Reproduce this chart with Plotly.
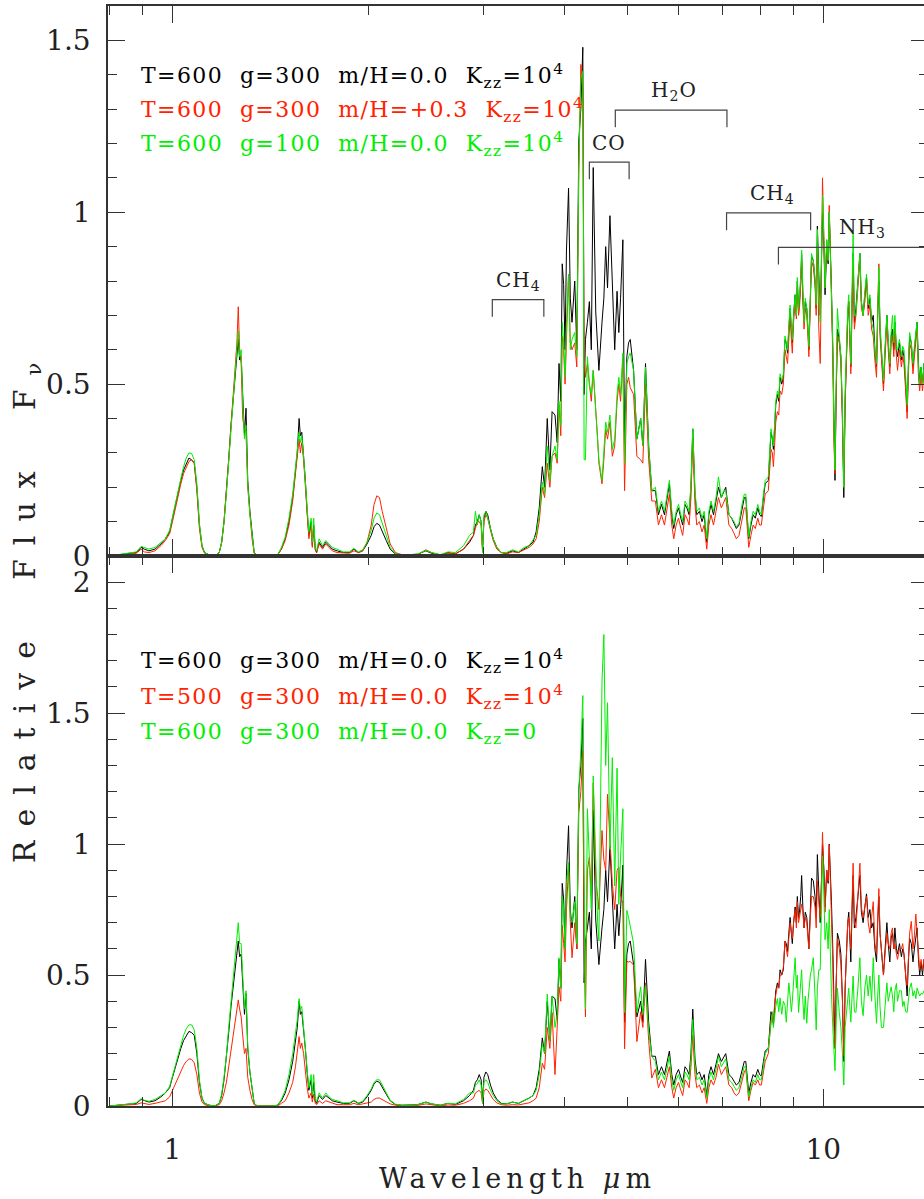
import numpy as np
import plotly.graph_objects as go

# ---------------------------------------------------------------------------
# Model spectra (relative F_nu) sampled on a common wavelength grid (micron)
# ---------------------------------------------------------------------------
wavelength = [
    # 0.80 - 0.96
    0.80, 0.83, 0.86, 0.88, 0.895, 0.905, 0.92, 0.94, 0.96,
    # Y band
    0.975, 0.99, 1.0, 1.01, 1.02, 1.03, 1.04, 1.05, 1.06, 1.07, 1.08, 1.09, 1.10, 1.11, 1.12, 1.14, 1.16,
    # J band
    1.18, 1.19, 1.20, 1.21, 1.22, 1.23, 1.24, 1.25, 1.256, 1.262, 1.268, 1.275, 1.282, 1.29, 1.297, 1.305,
    1.315, 1.325, 1.335, 1.35,
    1.38, 1.42, 1.45,
    # H band
    1.47, 1.49, 1.51, 1.53, 1.545, 1.555, 1.565, 1.572, 1.58, 1.59, 1.60, 1.61, 1.62, 1.633, 1.64, 1.648,
    1.657, 1.665, 1.68, 1.70, 1.72, 1.74, 1.76, 1.79,
    1.83, 1.87, 1.90, 1.93, 1.96, 1.99,
    # K band
    2.02, 2.04, 2.06, 2.08, 2.10, 2.13, 2.16, 2.2, 2.25,
    2.3, 2.38, 2.45, 2.5, 2.58, 2.65, 2.72, 2.8, 2.86,
    2.9, 2.92, 2.94, 2.96, 2.98, 2.995, 3.01, 3.03, 3.05, 3.08, 3.11, 3.15, 3.2,
    3.26, 3.33, 3.4, 3.47, 3.53, 3.58,
    # 4 micron window
    3.62, 3.66, 3.70, 3.73, 3.765, 3.80, 3.83, 3.87, 3.90, 3.925,
    3.95, 3.97, 3.99, 4.01, 4.03, 4.06, 4.085, 4.11, 4.15, 4.18,
    4.21, 4.24, 4.27, 4.29, 4.31, 4.34, 4.37, 4.40, 4.43, 4.47,
    4.50, 4.52, 4.57, 4.60, 4.63, 4.66, 4.70, 4.74, 4.78, 4.82,
    4.85, 4.88, 4.92, 4.95, 4.99, 5.02, 5.05, 5.11, 5.17, 5.24,
    5.28, 5.33, 5.39, 5.45,
    # 5.5 - 8.2
    5.52, 5.58, 5.64, 5.70, 5.75, 5.80, 5.85, 5.89, 5.94, 5.99,
    6.04, 6.08, 6.13, 6.17, 6.22, 6.26, 6.30, 6.35, 6.39, 6.45,
    6.51, 6.56, 6.62, 6.67, 6.72, 6.78, 6.84, 6.90, 6.97, 7.03,
    7.08, 7.16, 7.23, 7.29, 7.35, 7.42, 7.5, 7.56, 7.6, 7.64,
    7.68, 7.74, 7.8, 7.86, 7.93, 7.98, 8.03, 8.09, 8.14,
    # 8.2 - 14.5
    8.23, 8.27, 8.31, 8.35, 8.38, 8.42, 8.45, 8.5, 8.54, 8.58,
    8.63, 8.68, 8.73, 8.77, 8.81, 8.85, 8.89, 8.93, 8.96, 9.0,
    9.05, 9.09, 9.12, 9.16, 9.19, 9.23, 9.26, 9.3, 9.34, 9.38,
    9.43, 9.47, 9.5, 9.55, 9.59, 9.65, 9.71, 9.75, 9.79, 9.84,
    9.89, 9.93, 9.97, 10.02, 10.06, 10.12, 10.17, 10.21, 10.25, 10.29,
    10.34, 10.38, 10.42, 10.46, 10.51, 10.58, 10.64, 10.7, 10.75, 10.8,
    10.85, 10.9, 10.94, 10.98, 11.02, 11.07, 11.11, 11.16, 11.22, 11.3,
    11.38, 11.44, 11.51, 11.58, 11.65, 11.72, 11.79, 11.86, 11.93, 12.0,
    12.07, 12.12, 12.17, 12.22, 12.28, 12.37, 12.44, 12.52, 12.58, 12.65,
    12.71, 12.77, 12.83, 12.88, 12.95, 13.0, 13.09, 13.18, 13.24, 13.3,
    13.38, 13.45, 13.51, 13.57, 13.65, 13.73, 13.8, 13.87, 13.93, 14.0,
    14.06, 14.13, 14.2, 14.28, 14.36, 14.44, 14.52,
]

# T=600 g=300 m/H=0.0 Kzz=1e4 (reference model, shown in both panels)
flux_base = [
    0.0, 0.003, 0.008, 0.01, 0.025, 0.02, 0.015, 0.02, 0.035,
    0.05, 0.07, 0.11, 0.15, 0.19, 0.22, 0.25, 0.27, 0.285, 0.28, 0.27, 0.2, 0.09, 0.03, 0.01, 0.003, 0.0,
    0.01, 0.04, 0.1, 0.18, 0.28, 0.38, 0.46, 0.54, 0.6, 0.63, 0.57, 0.58, 0.47, 0.35, 0.43, 0.22,
    0.13, 0.06, 0.01, 0.0,
    0.0, 0.0, 0.003,
    0.02, 0.05, 0.1, 0.17, 0.25, 0.3, 0.4, 0.35, 0.36, 0.3, 0.22, 0.13, 0.06, 0.1, 0.03, 0.09,
    0.02, 0.01, 0.04, 0.025, 0.04, 0.03, 0.02, 0.015,
    0.01, 0.01, 0.02, 0.01, 0.015, 0.035,
    0.06, 0.085, 0.095, 0.09, 0.07, 0.045, 0.02, 0.006, 0.003,
    0.003, 0.005, 0.015, 0.008, 0.003, 0.01, 0.006, 0.02, 0.04,
    0.06, 0.09, 0.1, 0.12, 0.1, 0.02, 0.11, 0.13, 0.12, 0.08, 0.05, 0.025, 0.01,
    0.008, 0.015, 0.01, 0.02, 0.03, 0.04,
    0.07, 0.14, 0.26, 0.2, 0.40, 0.25, 0.42, 0.41, 0.33, 0.56,
    0.45, 0.85, 0.79, 0.6, 0.89, 1.07, 0.75, 0.68, 0.80, 0.60,
    1.21, 1.3, 1.48, 0.47, 0.63, 0.68, 0.74, 0.6, 1.13, 0.71,
    0.62, 0.54, 0.68, 0.75, 0.90, 0.78, 0.99, 0.79, 0.60, 0.77,
    0.65, 0.75, 0.92, 0.32, 0.58, 0.62, 0.63, 0.54, 0.34, 0.40,
    0.32, 0.56, 0.32, 0.19,
    0.19, 0.12, 0.15, 0.12, 0.16, 0.21, 0.12, 0.08, 0.12, 0.14,
    0.11, 0.09, 0.15, 0.14, 0.12, 0.2, 0.37, 0.18, 0.12, 0.13,
    0.10, 0.12, 0.04, 0.12, 0.15, 0.12, 0.16, 0.20, 0.17, 0.19,
    0.2, 0.12, 0.11, 0.095, 0.08, 0.09, 0.14, 0.17, 0.17, 0.12,
    0.05, 0.09, 0.12, 0.11, 0.14, 0.12, 0.115, 0.17, 0.21,
    0.22, 0.28, 0.36, 0.34, 0.31, 0.38, 0.44, 0.47, 0.45, 0.52,
    0.5, 0.52, 0.63, 0.62, 0.59, 0.66, 0.72, 0.66, 0.62, 0.7,
    0.76, 0.7, 0.8, 0.72, 0.74, 0.8, 0.88, 0.76, 0.68, 0.74,
    0.72, 0.66, 0.6, 0.75, 0.87, 0.86, 0.8, 0.72, 0.96, 0.82,
    0.7, 0.85, 1.0, 0.9, 0.76, 0.9, 0.85, 1.0, 0.9, 0.78,
    0.6, 0.35, 0.22, 0.45, 0.66, 0.63, 0.58, 0.4, 0.17, 0.45,
    0.6, 0.7, 0.74, 0.62, 0.55, 0.75, 0.88, 0.68, 0.72, 0.8,
    0.88, 0.74, 0.7, 0.76, 0.81, 0.72, 0.75, 0.68, 0.7, 0.6,
    0.55, 0.7, 0.8, 0.66, 0.6, 0.5, 0.6, 0.7, 0.62, 0.55,
    0.64, 0.66, 0.6, 0.68, 0.6, 0.58, 0.62, 0.57, 0.6, 0.58,
    0.5, 0.42, 0.55, 0.64, 0.62, 0.55, 0.6, 0.64, 0.68, 0.56,
    0.5, 0.55, 0.5, 0.56, 0.5, 0.54, 0.5,
]

# T=600 g=300 m/H=+0.3 Kzz=1e4
flux_metal = [
    0.0, 0.002, 0.005, 0.008, 0.02, 0.012, 0.01, 0.015, 0.03,
    0.045, 0.065, 0.1, 0.14, 0.18, 0.21, 0.24, 0.26, 0.275, 0.28, 0.27, 0.19, 0.08, 0.025, 0.008, 0.002, 0.0,
    0.01, 0.04, 0.1, 0.18, 0.28, 0.38, 0.48, 0.57, 0.62, 0.725, 0.6, 0.56, 0.4, 0.37, 0.36, 0.2,
    0.12, 0.05, 0.01, 0.0,
    0.0, 0.0, 0.002,
    0.02, 0.045, 0.09, 0.16, 0.24, 0.29, 0.34, 0.3, 0.33, 0.28, 0.2, 0.12, 0.05, 0.09, 0.025, 0.08,
    0.02, 0.01, 0.035, 0.02, 0.035, 0.025, 0.015, 0.01,
    0.008, 0.008, 0.015, 0.01, 0.015, 0.04,
    0.09, 0.15, 0.175, 0.17, 0.13, 0.08, 0.035, 0.01, 0.004,
    0.002, 0.004, 0.018, 0.01, 0.003, 0.008, 0.006, 0.02, 0.045,
    0.06, 0.08, 0.1, 0.1, 0.09, 0.015, 0.1, 0.12, 0.11, 0.075, 0.045, 0.02, 0.01,
    0.006, 0.012, 0.01, 0.018, 0.025, 0.035,
    0.05, 0.1, 0.2, 0.17, 0.27, 0.2, 0.29, 0.3, 0.27, 0.44,
    0.35, 0.64, 0.6, 0.5, 0.66, 0.82, 0.62, 0.60, 0.62, 0.55,
    1.12, 1.43, 1.36, 0.58, 0.52, 0.56, 0.50, 0.45, 0.54, 0.44,
    0.34, 0.27, 0.21, 0.28, 0.37, 0.34, 0.39, 0.29, 0.32, 0.45,
    0.5, 0.45, 0.57, 0.19, 0.50, 0.52, 0.49, 0.47, 0.29, 0.28,
    0.27, 0.5, 0.28, 0.16,
    0.16, 0.09, 0.12, 0.09, 0.13, 0.18, 0.09, 0.05, 0.09, 0.11,
    0.08, 0.06, 0.12, 0.11, 0.09, 0.17, 0.34, 0.15, 0.09, 0.1,
    0.07, 0.09, 0.02, 0.09, 0.12, 0.09, 0.13, 0.17, 0.14, 0.16,
    0.17, 0.09, 0.08, 0.066, 0.05, 0.06, 0.11, 0.14, 0.14, 0.09,
    0.025, 0.06, 0.09, 0.08, 0.11, 0.09, 0.09, 0.14, 0.18,
    0.19, 0.24, 0.31, 0.3, 0.26, 0.33, 0.39, 0.42, 0.41, 0.48,
    0.47, 0.5, 0.6, 0.58, 0.56, 0.63, 0.7, 0.63, 0.59, 0.68,
    0.74, 0.69, 0.78, 0.7, 0.72, 0.79, 0.86, 0.74, 0.66, 0.72,
    0.7, 0.64, 0.58, 0.74, 0.86, 0.84, 0.79, 0.7, 0.9, 0.66,
    0.56, 0.8, 1.1, 0.92, 0.78, 0.92, 0.86, 1.02, 0.9, 0.76,
    0.58, 0.33, 0.24, 0.46, 0.64, 0.62, 0.56, 0.38, 0.2, 0.44,
    0.58, 0.7, 0.74, 0.6, 0.53, 0.72, 0.86, 0.66, 0.7, 0.78,
    0.86, 0.72, 0.7, 0.74, 0.8, 0.7, 0.73, 0.66, 0.64, 0.57,
    0.52, 0.72, 0.85, 0.64, 0.58, 0.48, 0.58, 0.68, 0.6, 0.53,
    0.62, 0.64, 0.58, 0.66, 0.58, 0.54, 0.6, 0.55, 0.58, 0.56,
    0.48, 0.4, 0.53, 0.62, 0.6, 0.53, 0.58, 0.62, 0.66, 0.52,
    0.48, 0.53, 0.48, 0.54, 0.48, 0.52, 0.48,
]

# T=600 g=100 m/H=0.0 Kzz=1e4
flux_lowg = [
    0.0, 0.004, 0.01, 0.012, 0.028, 0.025, 0.02, 0.025, 0.04,
    0.05, 0.075, 0.115, 0.155, 0.195, 0.225, 0.26, 0.285, 0.30, 0.298, 0.28, 0.21, 0.095, 0.03, 0.01, 0.003, 0.0,
    0.01, 0.04, 0.1, 0.18, 0.28, 0.38, 0.47, 0.55, 0.6, 0.655, 0.58, 0.6, 0.45, 0.34, 0.38, 0.21,
    0.12, 0.06, 0.01, 0.0,
    0.0, 0.0, 0.003,
    0.025, 0.055, 0.11, 0.18, 0.26, 0.31, 0.36, 0.33, 0.35, 0.29, 0.21, 0.13, 0.07, 0.11, 0.04, 0.11,
    0.025, 0.015, 0.05, 0.03, 0.045, 0.035, 0.025, 0.02,
    0.012, 0.012, 0.022, 0.012, 0.018, 0.04,
    0.075, 0.11, 0.125, 0.12, 0.095, 0.06, 0.025, 0.008, 0.003,
    0.003, 0.006, 0.016, 0.01, 0.004, 0.012, 0.01, 0.03, 0.06,
    0.07, 0.13, 0.09, 0.12, 0.1, 0.01, 0.12, 0.13, 0.11, 0.08, 0.05, 0.025, 0.01,
    0.01, 0.018, 0.012, 0.025, 0.03, 0.045,
    0.06, 0.12, 0.215, 0.18, 0.32, 0.22, 0.29, 0.32, 0.28, 0.45,
    0.38, 0.68, 0.62, 0.52, 0.68, 0.82, 0.6, 0.63, 0.65, 0.58,
    1.14, 1.39, 1.41, 0.28, 0.28, 0.58, 0.50, 0.47, 0.54, 0.42,
    0.33, 0.28, 0.22, 0.3, 0.39, 0.36, 0.41, 0.31, 0.34, 0.47,
    0.52, 0.47, 0.59, 0.27, 0.56, 0.58, 0.59, 0.54, 0.34, 0.40,
    0.32, 0.55, 0.32, 0.19,
    0.2, 0.13, 0.16, 0.13, 0.17, 0.22, 0.13, 0.09, 0.13, 0.15,
    0.12, 0.1, 0.16, 0.15, 0.13, 0.21, 0.37, 0.19, 0.13, 0.14,
    0.11, 0.13, 0.05, 0.13, 0.16, 0.13, 0.17, 0.23, 0.17, 0.19,
    0.19, 0.12, 0.11, 0.1, 0.085, 0.095, 0.15, 0.18, 0.18, 0.13,
    0.055, 0.1, 0.13, 0.12, 0.15, 0.13, 0.12, 0.18, 0.22,
    0.23, 0.3, 0.37, 0.34, 0.32, 0.39, 0.45, 0.48, 0.46, 0.53,
    0.51, 0.53, 0.64, 0.62, 0.6, 0.67, 0.73, 0.67, 0.63, 0.7,
    0.76, 0.7, 0.81, 0.72, 0.75, 0.81, 0.89, 0.76, 0.68, 0.75,
    0.72, 0.66, 0.61, 0.76, 0.88, 0.86, 0.81, 0.73, 0.95, 0.8,
    0.68, 0.86, 1.05, 0.92, 0.78, 0.92, 0.86, 1.0, 0.9, 0.79,
    0.62, 0.38, 0.25, 0.5, 0.72, 0.64, 0.58, 0.42, 0.2, 0.48,
    0.62, 0.72, 0.76, 0.62, 0.56, 0.78, 0.94, 0.7, 0.7, 0.8,
    0.88, 0.74, 0.7, 0.77, 0.82, 0.73, 0.76, 0.68, 0.66, 0.6,
    0.56, 0.7, 0.84, 0.67, 0.61, 0.51, 0.61, 0.7, 0.63, 0.56,
    0.65, 0.7, 0.62, 0.7, 0.6, 0.6, 0.63, 0.58, 0.61, 0.6,
    0.52, 0.44, 0.56, 0.65, 0.62, 0.56, 0.61, 0.64, 0.68, 0.54,
    0.5, 0.55, 0.5, 0.56, 0.5, 0.54, 0.5,
]

# T=500 g=300 m/H=0.0 Kzz=1e4
flux_t500 = [
    0.0, 0.002, 0.004, 0.006, 0.012, 0.01, 0.006, 0.01, 0.015,
    0.02, 0.035, 0.06, 0.085, 0.11, 0.135, 0.155, 0.17, 0.18, 0.178, 0.165, 0.12, 0.05, 0.015, 0.005, 0.0, 0.0,
    0.005, 0.02, 0.05, 0.09, 0.15, 0.21, 0.27, 0.33, 0.37, 0.405, 0.37, 0.34, 0.27, 0.2, 0.22, 0.11,
    0.06, 0.025, 0.005, 0.0,
    0.0, 0.0, 0.0,
    0.01, 0.02, 0.05, 0.09, 0.15, 0.2, 0.265, 0.22, 0.24, 0.2, 0.13, 0.07, 0.03, 0.05, 0.015, 0.045,
    0.01, 0.005, 0.02, 0.01, 0.02, 0.015, 0.01, 0.005,
    0.005, 0.005, 0.01, 0.005, 0.008, 0.012,
    0.015, 0.025, 0.03, 0.03, 0.025, 0.015, 0.008, 0.003, 0.0,
    0.0, 0.002, 0.008, 0.004, 0.0, 0.004, 0.003, 0.01, 0.02,
    0.03, 0.05, 0.055, 0.06, 0.05, 0.01, 0.055, 0.065, 0.06, 0.04, 0.025, 0.012, 0.005,
    0.003, 0.005, 0.004, 0.008, 0.012, 0.02,
    0.03, 0.07, 0.163, 0.14, 0.30, 0.22, 0.357, 0.12, 0.3, 0.455,
    0.4, 0.69, 0.62, 0.55, 0.75, 0.913, 0.7, 0.566, 0.70, 0.6,
    1.12, 1.2, 1.358, 0.6, 0.34, 0.9, 0.95, 0.8, 1.233, 0.87,
    0.8, 0.75, 1.052, 0.94, 0.9, 1.19, 1.02, 0.85, 0.75, 0.9,
    0.913, 0.8, 0.774, 0.218, 0.552, 0.55, 0.552, 0.538, 0.246, 0.36,
    0.3, 0.47, 0.25, 0.107,
    0.14, 0.07, 0.1, 0.07, 0.11, 0.15, 0.07, 0.03, 0.07, 0.09,
    0.06, 0.04, 0.1, 0.09, 0.07, 0.15, 0.27, 0.12, 0.07, 0.08,
    0.05, 0.07, 0.01, 0.07, 0.1, 0.08, 0.11, 0.16, 0.12, 0.14,
    0.15, 0.08, 0.07, 0.05, 0.04, 0.05, 0.1, 0.13, 0.14, 0.09,
    0.02, 0.06, 0.09, 0.08, 0.1, 0.08, 0.08, 0.13, 0.17,
    0.2, 0.26, 0.33, 0.34, 0.32, 0.4, 0.43, 0.46, 0.45, 0.5,
    0.5, 0.53, 0.63, 0.6, 0.57, 0.64, 0.7, 0.66, 0.64, 0.7,
    0.75, 0.68, 0.78, 0.7, 0.72, 0.76, 0.77, 0.74, 0.68, 0.72,
    0.7, 0.64, 0.6, 0.72, 0.8, 0.8, 0.76, 0.68, 0.86, 0.78,
    0.72, 0.84, 1.045, 0.88, 0.74, 0.9, 0.86, 0.997, 0.88, 0.7,
    0.55, 0.3, 0.22, 0.45, 0.64, 0.6, 0.54, 0.4, 0.19, 0.45,
    0.62, 0.7, 0.72, 0.64, 0.6, 0.78, 0.927, 0.7, 0.68, 0.8,
    0.927, 0.76, 0.72, 0.76, 0.8, 0.7, 0.66, 0.72, 0.78, 0.62,
    0.58, 0.72, 0.83, 0.66, 0.58, 0.5, 0.58, 0.66, 0.62, 0.6,
    0.66, 0.68, 0.6, 0.62, 0.58, 0.56, 0.6, 0.6, 0.62, 0.58,
    0.5, 0.46, 0.56, 0.66, 0.705, 0.6, 0.65, 0.733, 0.66, 0.58,
    0.52, 0.56, 0.52, 0.56, 0.5, 0.55, 0.5,
]

# T=600 g=300 m/H=0.0 Kzz=0
flux_kzz0 = [
    0.0, 0.003, 0.008, 0.012, 0.028, 0.022, 0.018, 0.025, 0.04,
    0.05, 0.075, 0.115, 0.16, 0.2, 0.235, 0.27, 0.295, 0.31, 0.31, 0.29, 0.22, 0.1, 0.03, 0.01, 0.003, 0.0,
    0.01, 0.045, 0.11, 0.19, 0.3, 0.4, 0.49, 0.58, 0.63, 0.70, 0.62, 0.62, 0.5, 0.37, 0.44, 0.23,
    0.13, 0.06, 0.01, 0.0,
    0.0, 0.0, 0.003,
    0.025, 0.06, 0.12, 0.2, 0.28, 0.33, 0.41, 0.37, 0.38, 0.31, 0.22, 0.14, 0.07, 0.12, 0.04, 0.12,
    0.03, 0.015, 0.05, 0.03, 0.05, 0.035, 0.025, 0.02,
    0.012, 0.012, 0.022, 0.012, 0.018, 0.04,
    0.065, 0.09, 0.1, 0.1, 0.08, 0.05, 0.022, 0.007, 0.003,
    0.003, 0.005, 0.015, 0.008, 0.003, 0.01, 0.008, 0.025, 0.05,
    0.05, 0.08, 0.085, 0.1, 0.08, 0.01, 0.09, 0.1, 0.09, 0.06, 0.04, 0.02, 0.008,
    0.008, 0.015, 0.01, 0.02, 0.03, 0.04,
    0.06, 0.12, 0.24, 0.2, 0.427, 0.25, 0.42, 0.3, 0.35, 0.566,
    0.45, 0.80, 0.75, 0.6, 0.85, 0.93, 0.72, 0.7, 0.78, 0.62,
    1.2, 1.36, 1.567, 0.9, 0.371, 1.135, 0.9, 0.75, 1.26, 0.92,
    0.7, 0.63, 1.622, 1.80, 1.3, 1.54, 0.98, 1.33, 0.84, 1.29,
    0.77, 0.95, 1.135, 0.357, 0.747, 0.72, 0.69, 0.62, 0.357, 0.455,
    0.35, 0.46, 0.288, 0.19,
    0.17, 0.1, 0.13, 0.1, 0.14, 0.19, 0.1, 0.06, 0.1, 0.12,
    0.09, 0.07, 0.13, 0.12, 0.1, 0.18, 0.33, 0.16, 0.1, 0.11,
    0.08, 0.1, 0.03, 0.1, 0.13, 0.1, 0.14, 0.19, 0.15, 0.17,
    0.18, 0.1, 0.09, 0.075, 0.06, 0.07, 0.12, 0.15, 0.15, 0.1,
    0.035, 0.07, 0.1, 0.09, 0.12, 0.1, 0.1, 0.15, 0.2,
    0.22, 0.27, 0.31, 0.36, 0.3, 0.36, 0.38, 0.41, 0.36, 0.413,
    0.35, 0.4, 0.385, 0.32, 0.42, 0.47, 0.42, 0.36, 0.4, 0.5,
    0.566, 0.45, 0.5, 0.357, 0.42, 0.5, 0.52, 0.4, 0.33, 0.42,
    0.316, 0.4, 0.45, 0.5, 0.52, 0.566, 0.42, 0.29, 0.45, 0.52,
    0.52, 0.7, 0.955, 0.8, 0.635, 0.7, 0.6, 0.75, 0.55, 0.43,
    0.3, 0.2, 0.135, 0.3, 0.45, 0.357, 0.3, 0.2, 0.08, 0.3,
    0.36, 0.43, 0.45, 0.38, 0.32, 0.42, 0.496, 0.36, 0.357, 0.45,
    0.566, 0.4, 0.345, 0.45, 0.5, 0.42, 0.496, 0.4, 0.566, 0.42,
    0.316, 0.42, 0.5, 0.38, 0.3, 0.3, 0.4, 0.47, 0.4, 0.44,
    0.455, 0.42, 0.36, 0.44, 0.468, 0.4, 0.44, 0.44, 0.38, 0.4,
    0.36, 0.357, 0.4, 0.45, 0.47, 0.42, 0.44, 0.41, 0.45, 0.43,
    0.42, 0.43, 0.427, 0.44, 0.4, 0.43, 0.41,
]

for series in (flux_base, flux_metal, flux_lowg, flux_t500, flux_kzz0):
    assert len(series) == len(wavelength), (len(series), len(wavelength))

# Molecular band markers in the upper panel
band_names = ["CH<sub>4</sub>", "CO", "H<sub>2</sub>O", "CH<sub>4</sub>", "NH<sub>3</sub>"]
band_start = [3.10, 4.37, 4.79, 7.10, 8.53]
band_end = [3.72, 5.03, 7.11, 9.56, 30.0]
band_level = [0.746, 1.146, 1.297, 0.998, 0.898]
band_label_x = [3.40, 4.68, 5.90, 8.34, 11.49]

top_labels = [
    "T=600  g=300  m/H=0.0  K<sub>zz</sub>=10<sup>4</sup>",
    "T=600  g=300  m/H=+0.3  K<sub>zz</sub>=10<sup>4</sup>",
    "T=600  g=100  m/H=0.0  K<sub>zz</sub>=10<sup>4</sup>",
]
bottom_labels = [
    "T=600  g=300  m/H=0.0  K<sub>zz</sub>=10<sup>4</sup>",
    "T=500  g=300  m/H=0.0  K<sub>zz</sub>=10<sup>4</sup>",
    "T=600  g=300  m/H=0.0  K<sub>zz</sub>=0",
]

# ---------------------------------------------------------------------------
# Page geometry (pixels)
# ---------------------------------------------------------------------------
FIG_W, FIG_H = 930, 1199
M_L, M_T, M_B = 108, 6, 93
PLOT_W = FIG_W - M_L
PLOT_H = FIG_H - M_T - M_B


def paper_x(px):
    return (px - M_L) / PLOT_W


def paper_y(py):
    return (FIG_H - M_B - py) / PLOT_H


SERIF = "DejaVu Serif"
BLACK, RED, GREEN = "#000000", "#ff2200", "#00ee00"
AXIS = "#333333"
COLORS = [BLACK, RED, GREEN]


def spaced(text, ls):
    return f'<span style="letter-spacing:{ls}px">{text.replace("  ", chr(160) * 2)}</span>'


fig = go.Figure()

for ys, col in zip((flux_base, flux_metal, flux_lowg), COLORS):
    fig.add_trace(go.Scatter(x=wavelength, y=ys, mode="lines", line=dict(color=col, width=1),
                             xaxis="x", yaxis="y", hoverinfo="skip", showlegend=False))
for ys, col in zip((flux_base, flux_t500, flux_kzz0), COLORS):
    fig.add_trace(go.Scatter(x=wavelength, y=ys, mode="lines", line=dict(color=col, width=1),
                             xaxis="x2", yaxis="y2", hoverinfo="skip", showlegend=False))

# band brackets
bx, by = [], []
for x0, x1, lev in zip(band_start, band_end, band_level):
    leg = lev - 0.05
    if x1 > 20:
        bx += [x0, x0, x1, None]
        by += [leg, lev, lev, None]
    else:
        bx += [x0, x0, x1, x1, None]
        by += [leg, lev, lev, leg, None]
fig.add_trace(go.Scatter(x=bx, y=by, mode="lines", line=dict(color="#444444", width=1.2),
                         xaxis="x", yaxis="y", hoverinfo="skip", showlegend=False))

annotations = []
for name, lx, lev in zip(band_names, band_label_x, band_level):
    annotations.append(dict(x=np.log10(lx), y=lev + 0.055, xref="x", yref="y", text=spaced(name, 1),
                            showarrow=False, xanchor="center", yanchor="middle",
                            font=dict(family=SERIF, size=20, color="#222222")))

for i, (txt, col) in enumerate(zip(top_labels, COLORS)):
    annotations.append(dict(x=paper_x(139), y=paper_y(76 + 34 * i), xref="paper", yref="paper",
                            text=spaced(txt, 1.4), showarrow=False, xanchor="left", yanchor="middle",
                            font=dict(family=SERIF, size=22, color=col)))
for i, (txt, col) in enumerate(zip(bottom_labels, COLORS)):
    annotations.append(dict(x=paper_x(139), y=paper_y(661 + 36 * i), xref="paper", yref="paper",
                            text=spaced(txt, 1.4), showarrow=False, xanchor="left", yanchor="middle",
                            font=dict(family=SERIF, size=22, color=col)))

# axis titles
annotations.append(dict(x=paper_x(26), y=paper_y(606), xref="paper", yref="paper",
                        text=spaced("Relative  Flux  F<sub>ν</sub>", 14), textangle=-90,
                        showarrow=False, xanchor="center", yanchor="middle",
                        font=dict(family=SERIF, size=30, color="#222222")))
annotations.append(dict(x=paper_x(518), y=paper_y(1178), xref="paper", yref="paper",
                        text=spaced("Wavelength <i>μ</i>m", 5),
                        showarrow=False, xanchor="center", yanchor="middle",
                        font=dict(family=SERIF, size=27, color="#222222")))

tickfont = dict(family=SERIF, size=28, color="#222222")
xcommon = dict(type="log", range=[np.log10(0.796), np.log10(14.48)],
               showline=True, linecolor=AXIS, linewidth=1.5, mirror="ticks",
               ticks="inside", ticklen=17, tickwidth=1.2, tickcolor=AXIS,
               tickmode="array", tickvals=[1, 10], ticktext=["1", "10"],
               minor=dict(tickmode="array", tickvals=[0.8, 0.9, 2, 3, 4, 5, 6, 7, 8, 9, 20],
                          ticks="inside", ticklen=9, tickwidth=1.2, tickcolor=AXIS),
               showgrid=False, zeroline=False, tickfont=tickfont)
ycommon = dict(showline=True, linecolor=AXIS, linewidth=1.5, mirror="ticks",
               ticks="inside", ticklen=17, tickwidth=1.2, tickcolor=AXIS,
               minor=dict(dtick=0.1, tick0=0, ticks="inside", ticklen=9, tickwidth=1.2, tickcolor=AXIS),
               showgrid=False, zeroline=False, tickfont=tickfont, ticklabelstandoff=10)

fig.update_layout(
    width=FIG_W, height=FIG_H,
    margin=dict(l=M_L, r=0, t=M_T, b=M_B),
    paper_bgcolor="white", plot_bgcolor="white",
    showlegend=False,
    xaxis=dict(xcommon, anchor="y", domain=[0, 1], showticklabels=False),
    yaxis=dict(ycommon, anchor="x", domain=[0.5, 1], range=[0, 1.6],
               tickmode="array", tickvals=[0, 0.5, 1, 1.5], ticktext=["0", "0.5", "1", "1.5"]),
    xaxis2=dict(xcommon, anchor="y2", domain=[0, 1], ticklabelstandoff=18),
    yaxis2=dict(ycommon, anchor="x2", domain=[0, 0.5], range=[0, 2.1],
                tickmode="array", tickvals=[0, 0.5, 1, 1.5, 2], ticktext=["0", "0.5", "1", "1.5", "2"]),
    annotations=annotations,
)

fig.write_html(
    "out.html",
    post_script=(
        "document.documentElement.style.overflow='hidden';"
        "document.body.style.overflow='hidden';"
        "document.body.style.margin='0';"
    ),
)
